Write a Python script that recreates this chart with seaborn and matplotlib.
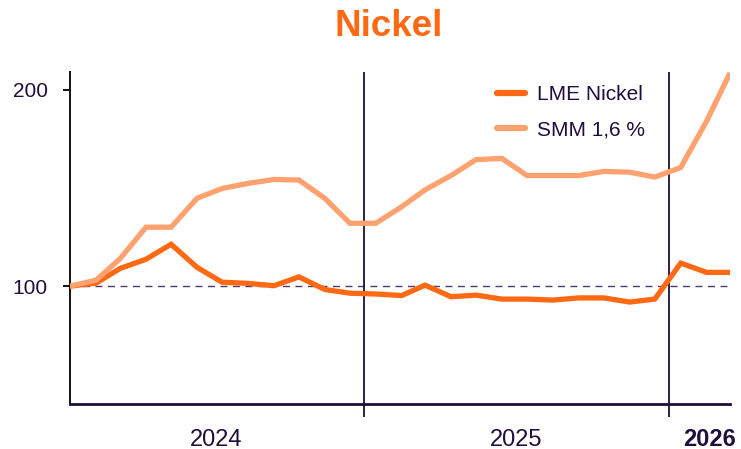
import pandas as pd
import numpy as np
import matplotlib
matplotlib.use("Agg")
import matplotlib.pyplot as plt
import seaborn as sns

# Data (index, Jan 2024 = 100), monthly mid-month points
months = pd.date_range("2024-01-01", periods=27, freq="MS") + pd.Timedelta(days=14)
lme_nickel = [100, 101.5, 109, 113.7, 121.3, 109.6, 102, 101.4, 100.2, 104.7, 98.3, 96.4,
              96, 95.2, 100.5, 94.6, 95.4, 93.4, 93.4, 92.9, 94, 94, 91.9, 93.4,
              111.7, 107, 107]
smm_16 = [100, 103, 114, 130, 130, 144.7, 149.7, 152.3, 154.3, 154, 144.7, 132,
          132, 140.4, 149, 156.3, 164.4, 165, 156.3, 156.3, 156.3, 158.4, 158, 155.5,
          160.4, 184, 208.5]
series_names = ["LME Nickel", "SMM 1,6 %"]
year_bounds = [pd.Timestamp("2025-01-01"), pd.Timestamp("2026-01-01")]
year_labels = ["2024", "2025", "2026"]
y_ticks = [100, 200]

NAVY = "#1e0f3c"
DARK_ORANGE = "#ff6914"
LIGHT_ORANGE = "#ffa26f"

sns.set_style("white")
plt.rcParams['font.family'] = ['Liberation Sans', 'DejaVu Sans']

df = pd.DataFrame({"date": list(months) * 2,
                   "value": lme_nickel + smm_16,
                   "series": [series_names[0]] * len(months) + [series_names[1]] * len(months)})

fig = plt.figure(figsize=(7.41, 4.49), dpi=100)
ax = fig.add_axes([70 / 741, 1 - 404 / 449, 660 / 741, 332 / 449])

# reference line and year separators
ax.axhline(100, color="#4b3b6b", lw=1.0, ls=(0, (5, 4)), zorder=1)
for b in year_bounds:
    ax.axvline(b, color=NAVY, lw=1.3, zorder=1)

sns.lineplot(data=df, x="date", y="value", hue="series",
             palette=[DARK_ORANGE, LIGHT_ORANGE], linewidth=3.8,
             ax=ax, legend=True, zorder=3)
for line in ax.get_lines():
    line.set_solid_capstyle("butt")
    line.set_solid_joinstyle("miter")

ax.set_xlim(months[0], months[-1])
ax.set_ylim(40, 209)
ax.set_yticks(y_ticks)
ax.set_yticklabels([str(t) for t in y_ticks], fontsize=15, color=NAVY)
ax.set_xticks(year_bounds)
ax.set_xticklabels([])
ax.tick_params(axis="y", direction="out", length=5, width=1.4, color="#111111", pad=11, left=True)
ax.tick_params(axis="x", direction="out", length=9, width=1.3, color=NAVY, bottom=True)
ax.set_xlabel("")
ax.set_ylabel("")

for s in ["top", "right"]:
    ax.spines[s].set_visible(False)
ax.spines["left"].set_color("#111111")
ax.spines["left"].set_linewidth(1.4)
ax.spines["bottom"].set_color(NAVY)
ax.spines["bottom"].set_linewidth(2.0)

# year labels under the axis
trans = ax.get_xaxis_transform()
label_pos = [pd.Timestamp("2024-07-08"), pd.Timestamp("2025-07-02"), pd.Timestamp("2026-02-18")]
for pos, lab in zip(label_pos, year_labels):
    ax.text(pos, -0.125, lab, transform=trans, ha="center", va="baseline",
            fontsize=17, color=NAVY, fontweight="bold" if lab == "2026" else "normal")

# legend
handles, labels = ax.get_legend_handles_labels()
leg = ax.legend(handles, labels, loc="upper left", bbox_to_anchor=(497 / 741, 1 - 85 / 449),
                bbox_transform=fig.transFigure, frameon=False, fontsize=15,
                borderpad=0, borderaxespad=0, handlelength=1.35, handletextpad=0.55,
                labelspacing=0.78)
for t in leg.get_texts():
    t.set_color(NAVY)
for h in leg.get_lines():
    h.set_linewidth(4.5)
    h.set_solid_capstyle("round")

fig.text(389 / 741, 1 - 27 / 449, "Nickel", ha="center", va="center",
         fontsize=26.5, fontweight="bold", color=DARK_ORANGE)

fig.savefig("out.png", dpi=100, facecolor="white")
